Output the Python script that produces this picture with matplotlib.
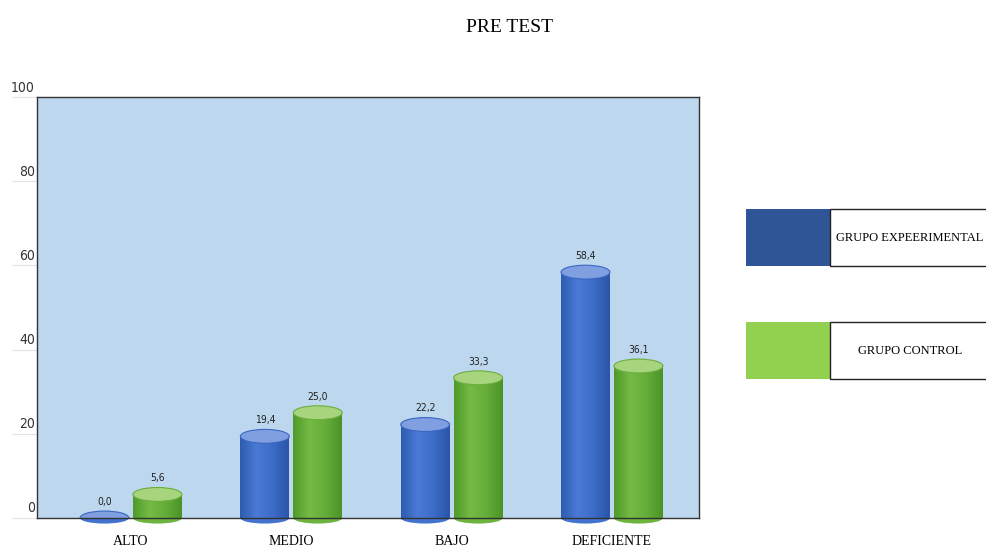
import numpy as np
import matplotlib
matplotlib.use("Agg")
import matplotlib.pyplot as plt
from matplotlib.patches import Ellipse, Rectangle
from matplotlib.transforms import ScaledTranslation
from matplotlib.colors import LinearSegmentedColormap

categories = ["ALTO", "MEDIO", "BAJO", "DEFICIENTE"]
experimental = [0.0, 19.4, 22.2, 58.4]
control = [5.6, 25.0, 33.3, 36.1]
series_names = ["GRUPO EXPEERIMENTAL", "GRUPO CONTROL"]
y_ticks = [0, 20, 40, 60, 80, 100]
title = "PRE TEST"

fig = plt.figure(figsize=(9.86, 5.49), dpi=100)
W, H = 986, 549
ax = fig.add_axes([37 / W, 1 - 518 / H, (699 - 37) / W, (518 - 97) / H])
ax.set_facecolor("#bdd7ee")

bw = 0.305
off = 0.165
eh = 3.3

blue_cmap = LinearSegmentedColormap.from_list("b", ["#2e5cb0", "#4a7ad6", "#3d6cc8", "#2a55a8"])
green_cmap = LinearSegmentedColormap.from_list("g", ["#4f9a2a", "#74bb44", "#66ad3a", "#4a9426"])
grad = np.linspace(0, 1, 64).reshape(1, -1)

def cylinder(x, v, cmap, body_col, top_col, edge_col):
    bars = ax.bar([x], [v], width=bw, color=body_col, linewidth=0, zorder=2)
    patch = bars[0]
    if v > 0:
        im = ax.imshow(grad, cmap=cmap, aspect="auto",
                       extent=(x - bw / 2, x + bw / 2, 0, v), zorder=2.1)
        im.set_clip_path(patch)
    ax.add_patch(Ellipse((x, 0), bw, eh * 0.8, facecolor=cmap(0.5), edgecolor="none", zorder=2.05, clip_on=False))
    ax.add_patch(Ellipse((x, v), bw, eh, facecolor=top_col, edgecolor=edge_col, linewidth=0.8, zorder=2.3))

label_font = ["Liberation Sans Narrow", "DejaVu Sans"]
for i, (e, c) in enumerate(zip(experimental, control)):
    xb = i - off
    xg = i + off
    cylinder(xb, e, blue_cmap, "#3d6cc8", "#7f9fe0", "#3a66c0")
    cylinder(xg, c, green_cmap, "#66ad3a", "#a8d47e", "#6aae3c")
    for xx, vv in ((xb, e), (xg, c)):
        ax.annotate(f"{vv:.1f}".replace(".", ","), (xx, vv + eh / 2), xytext=(0, 3),
                    textcoords="offset points", ha="center", va="bottom",
                    fontsize=7.5, family=label_font, stretch="condensed", color="#222222")

ax.set_xlim(-0.586, 3.543)
ax.set_ylim(0, 100)
ax.set_xticks(range(len(categories)))
ax.set_xticklabels(categories, family="Liberation Serif", fontsize=10)
ax.tick_params(axis="x", length=0, pad=12)
ax.set_yticks(y_ticks)
ax.set_yticklabels([str(t) for t in y_ticks], family=label_font, stretch="condensed",
                   fontsize=10, color="#333333")
ax.tick_params(axis="y", length=18, width=0.8, color="#e2e2e2", pad=-16.6)
for lab in ax.get_yticklabels():
    lab.set_transform(lab.get_transform() + ScaledTranslation(0, 11 / 100, fig.dpi_scale_trans))
for s in ax.spines.values():
    s.set_color("#333333")
    s.set_linewidth(1.0)

fig.text(509 / W, 1 - 27 / H, title, ha="center", va="center", family="Liberation Serif", fontsize=14)

# legend boxes
legend_colors = ["#2f5597", "#92d050"]
legend_y = [209, 322]
for name, col, yt in zip(series_names, legend_colors, legend_y):
    h = 57
    fig.patches.append(Rectangle((746 / W, 1 - (yt + h) / H), 84 / W, h / H,
                                 transform=fig.transFigure, facecolor=col, edgecolor="none"))
    fig.patches.append(Rectangle((830 / W, 1 - (yt + h) / H), 170 / W, h / H,
                                 transform=fig.transFigure, facecolor="white", edgecolor="#222222", linewidth=1.0))
    fig.text(910 / W, 1 - (yt + h / 2 + 1) / H, name, ha="center", va="center",
             family="Liberation Serif", fontsize=9, stretch="condensed")

fig.savefig("out.png", dpi=100)
